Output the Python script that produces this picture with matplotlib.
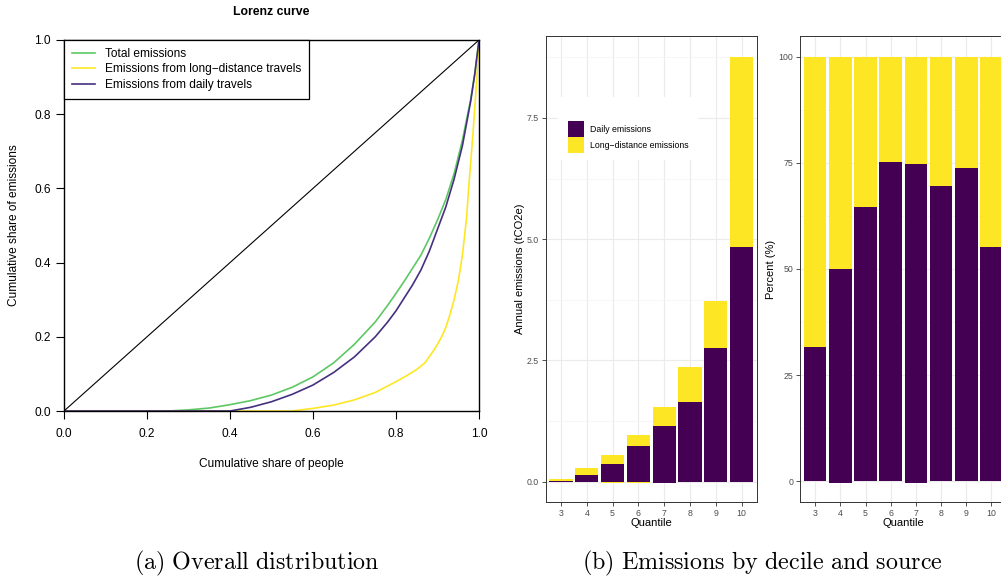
import numpy as np
import matplotlib.pyplot as plt
from matplotlib.patches import Patch, Rectangle

plt.rcParams['font.family'] = ['Liberation Sans', 'DejaVu Sans']
plt.rcParams['mathtext.fontset'] = 'cm'

# Lorenz curves
x_total = [0, 0.1, 0.2, 0.25, 0.3, 0.35, 0.4, 0.45, 0.5, 0.55, 0.6, 0.65, 0.7, 0.75, 0.78, 0.8,
           0.82, 0.84, 0.86, 0.88, 0.9, 0.92, 0.94, 0.96, 0.98, 0.99, 1.0]
y_total = [0, 0, 0, 0, 0.003, 0.008, 0.017, 0.028, 0.043, 0.064, 0.092, 0.13, 0.18, 0.24, 0.285,
           0.317, 0.35, 0.385, 0.42, 0.465, 0.515, 0.57, 0.64, 0.73, 0.84, 0.91, 1.0]
x_daily = [0, 0.2, 0.4, 0.45, 0.5, 0.55, 0.6, 0.65, 0.7, 0.75, 0.78, 0.8, 0.82, 0.84, 0.86,
           0.88, 0.9, 0.92, 0.94, 0.96, 0.98, 0.99, 1.0]
y_daily = [0, 0, 0, 0.01, 0.025, 0.045, 0.07, 0.104, 0.146, 0.2, 0.24, 0.27, 0.305, 0.34, 0.38,
           0.43, 0.49, 0.55, 0.625, 0.715, 0.835, 0.91, 1.0]
x_long = [0, 0.3, 0.55, 0.6, 0.65, 0.7, 0.75, 0.8, 0.83, 0.85, 0.87, 0.88, 0.89, 0.9, 0.91,
          0.92, 0.93, 0.94, 0.95, 0.96, 0.97, 0.975, 0.98, 0.985, 0.99, 0.995, 1.0]
y_long = [0, 0, 0, 0.007, 0.016, 0.03, 0.05, 0.079, 0.098, 0.112, 0.13, 0.146, 0.162, 0.18, 0.2,
          0.225, 0.26, 0.3, 0.35, 0.42, 0.52, 0.6, 0.67, 0.74, 0.82, 0.9, 1.0]

# Emissions by decile
quantiles = [3, 4, 5, 6, 7, 8, 9, 10]
daily_em = [0.02, 0.144, 0.37, 0.735, 1.147, 1.64, 2.75, 4.83]
long_em = [0.03, 0.146, 0.186, 0.225, 0.393, 0.72, 0.97, 3.92]
daily_em_neg = [0, 0, 0, 0, -0.035, 0, 0, 0]
long_em_neg = [0, 0, -0.02, -0.02, 0, 0, 0, 0]

daily_pct = [31.7, 50.0, 64.6, 75.3, 74.8, 69.6, 73.8, 55.2]
long_pct = [68.3, 50.0, 35.4, 24.7, 25.2, 30.4, 26.2, 44.8]
daily_pct_neg = [0, -0.4, 0, 0, -0.4, 0, 0, 0]

PURPLE = '#440154'
YELLOW = '#FDE725'
W, H = 1001, 577

fig = plt.figure(figsize=(W / 100, H / 100), dpi=100)


def px_axes(l, t, r, b):
    return fig.add_axes([l / W, 1 - b / H, (r - l) / W, (b - t) / H])


# ---- (a) Lorenz curve
ax = px_axes(64, 40, 479, 411)
ax.plot([0, 1], [0, 1], color='black', lw=0.8)
ax.plot(x_total, y_total, color='#5DC863', lw=1.2, label='Total emissions')
ax.plot(x_long, y_long, color='#FDE725', lw=1.2, label='Emissions from long\u2212distance travels')
ax.plot(x_daily, y_daily, color='#45307F', lw=1.2, label='Emissions from daily travels')
ax.set_xlim(0, 1)
ax.set_ylim(0, 1)
ax.set_xticks(np.arange(0, 1.01, 0.2))
ax.set_yticks(np.arange(0, 1.01, 0.2))
ax.set_xticklabels(['0.0', '0.2', '0.4', '0.6', '0.8', '1.0'])
ax.set_yticklabels(['0.0', '0.2', '0.4', '0.6', '0.8', '1.0'])
ax.tick_params(direction='out', length=5.5, width=0.8, labelsize=8.6, color='black')
ax.tick_params(axis='x', pad=7)
ax.tick_params(axis='y', pad=4)
for s in ax.spines.values():
    s.set_linewidth(1.0)
ax.set_title('Lorenz curve', fontsize=8.8, fontweight='bold', pad=18)
ax.set_xlabel('Cumulative share of people', fontsize=8.6, labelpad=13)
ax.set_ylabel('Cumulative share of emissions', fontsize=8.6, labelpad=10)
leg = ax.legend(loc='upper left', bbox_to_anchor=(0, 1), borderaxespad=0, fontsize=8.6,
                fancybox=False, edgecolor='black', framealpha=1, handlelength=1.9,
                handletextpad=0.85, labelspacing=0.28, borderpad=0.68)
leg.get_frame().set_linewidth(0.9)

# ---- (b) bars
def style_gg(a, yticks, yticklabels, ylim, minor):
    a.set_xlim(2.4, 10.6)
    a.set_ylim(*ylim)
    a.set_xticks(quantiles)
    a.set_xticklabels([str(q) for q in quantiles])
    a.set_yticks(yticks)
    a.set_yticklabels(yticklabels)
    a.set_yticks(minor, minor=True)
    a.grid(True, which='major', color='#EBEBEB', lw=0.8)
    a.grid(True, which='minor', axis='y', color='#F3F3F3', lw=0.5)
    a.set_axisbelow(True)
    a.tick_params(which='major', direction='out', length=2.8, width=0.6, color='#333333',
                  labelsize=6.3, labelcolor='#4D4D4D', pad=2)
    a.tick_params(which='minor', length=0)
    for s in a.spines.values():
        s.set_color('#333333')
        s.set_linewidth(0.7)
    a.set_xlabel('Quantile', fontsize=8, labelpad=0.5)


ax2 = px_axes(545.5, 36, 757, 502)
ax2.bar(quantiles, daily_em, width=0.9, color=PURPLE)
ax2.bar(quantiles, long_em, width=0.9, bottom=daily_em, color=YELLOW)
ax2.bar(quantiles, daily_em_neg, width=0.9, color=PURPLE)
ax2.bar(quantiles, long_em_neg, width=0.9, bottom=daily_em_neg, color=YELLOW)
style_gg(ax2, [0, 2.5, 5, 7.5], ['0.0', '2.5', '5.0', '7.5'], (-0.42, 9.19), [1.25, 3.75, 6.25, 8.75])
ax2.set_ylabel('Annual emissions (tCO2e)', fontsize=8, labelpad=1)

ax2.add_patch(Rectangle((0.059, 0.734), 0.662, 0.135, transform=ax2.transAxes,
                        facecolor='white', edgecolor='none', zorder=1.5))
handles = [Patch(facecolor=PURPLE, label='Daily emissions'),
           Patch(facecolor=YELLOW, label='Long\u2212distance emissions')]
leg2 = ax2.legend(handles=handles, loc='upper left', bbox_to_anchor=(0.106, 0.818),
                  borderaxespad=0, frameon=False, fontsize=6.3, handlelength=1.83,
                  handleheight=2.44, labelspacing=0.0, handletextpad=0.7, borderpad=0)

ax3 = px_axes(800, 36, 1006.6, 502)
ax3.bar(quantiles, daily_pct, width=0.9, color=PURPLE)
ax3.bar(quantiles, long_pct, width=0.9, bottom=daily_pct, color=YELLOW)
ax3.bar(quantiles, daily_pct_neg, width=0.9, color=PURPLE)
style_gg(ax3, [0, 25, 50, 75, 100], ['0', '25', '50', '75', '100'], (-4.9, 104.9),
         [12.5, 37.5, 62.5, 87.5])
ax3.set_ylabel('Percent (%)', fontsize=8, labelpad=1.5)

# captions
fig.text(257 / W, 1 - 563 / H, r'$\mathrm{(a)\ Overall\ distribution}$', fontsize=17.3,
         ha='center', va='center')
fig.text(762 / W, 1 - 563 / H, r'$\mathrm{(b)\ Emissions\ by\ decile\ and\ source}$',
         fontsize=17.3, ha='center', va='center')

fig.savefig('out.png', dpi=100)
